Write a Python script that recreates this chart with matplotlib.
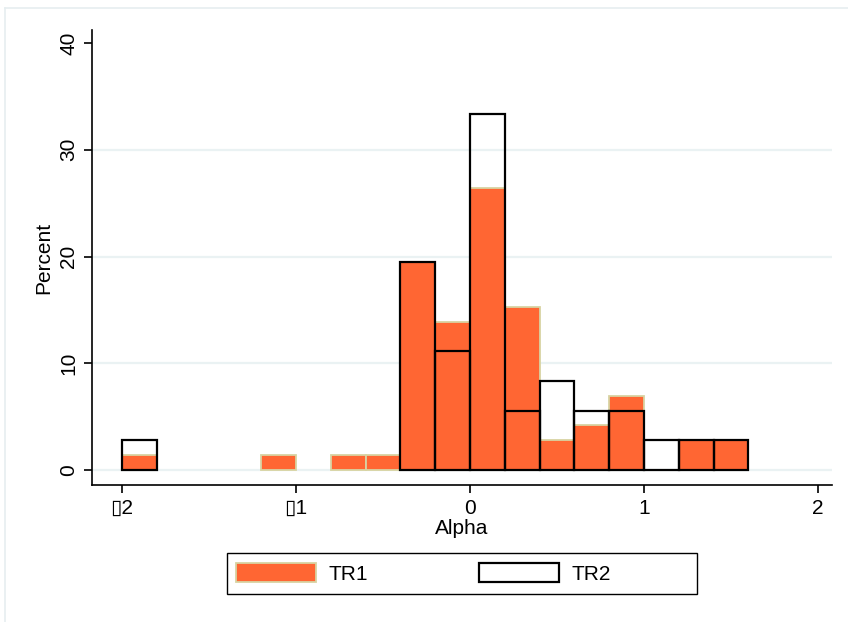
import matplotlib
matplotlib.use("Agg")
import matplotlib.pyplot as plt
from matplotlib.lines import Line2D
import matplotlib.patches as patches

plt.rcParams['font.family'] = ['Liberation Sans', 'DejaVu Sans']

# Bin left edges (width 0.2) and percentages
bin_width = 0.2
tr1_edges = [-2.0, -1.2, -0.8, -0.6, -0.4, -0.2, 0.0, 0.2, 0.4, 0.6, 0.8, 1.2, 1.4]
tr1_pct = [1.39, 1.39, 1.39, 1.39, 19.44, 13.89, 26.39, 15.28, 2.78, 4.17, 6.94, 2.78, 2.78]

tr2_edges = [-2.0, -0.4, -0.2, 0.0, 0.2, 0.4, 0.6, 0.8, 1.0, 1.2, 1.4]
tr2_pct = [2.78, 19.44, 11.11, 33.33, 5.56, 8.33, 5.56, 5.56, 2.78, 2.78, 2.78]

x_ticks = [-2, -1, 0, 1, 2]
x_ticklabels = ["\u25af2", "\u25af1", "0", "1", "2"]
y_ticks = [0, 10, 20, 30, 40]

W, H = 848, 622
fs = 15
fig = plt.figure(figsize=(W / 100, H / 100), dpi=100)
ax = fig.add_axes([92 / W, 1 - 485 / H, (832 - 92) / W, (485 - 30) / H])

# quadrillage léger
for y in y_ticks[:-1]:
    ax.axhline(y, color='#eaf2f3', lw=1.6, zorder=0)

orange = '#ff6633'
tan = '#d8d3a2'
ax.bar(tr1_edges, tr1_pct, width=bin_width, align='edge', facecolor=orange,
       edgecolor=tan, linewidth=1.3, zorder=2, label='TR1')
ax.bar(tr2_edges, tr2_pct, width=bin_width, align='edge', facecolor='none',
       edgecolor='black', linewidth=1.6, zorder=3, label='TR2')

ax.set_xlim(-2.172, 2.080)
ax.set_ylim(-1.405, 41.22)
for s in ['top', 'right']:
    ax.spines[s].set_visible(False)
for s in ['left', 'bottom']:
    ax.spines[s].set_linewidth(1.2)

ax.set_xticks(x_ticks)
ax.set_xticklabels(x_ticklabels, fontsize=fs)
ax.set_yticks(y_ticks)
ax.set_yticklabels([str(v) for v in y_ticks], fontsize=fs, rotation=90, va='center')
ax.tick_params(axis='both', direction='out', length=6, width=1.2, pad=4)

ax.set_xlabel("Alpha", fontsize=fs, labelpad=1)
ax.set_ylabel("Percent", fontsize=fs, labelpad=4)

# légende : cadre dessiné à part (colonnes de largeur égale comme dans Stata)
handles, labels = ax.get_legend_handles_labels()
leg = fig.legend(handles, labels, loc='center left', ncol=2,
                 bbox_to_anchor=(236 / W, 1 - 573.5 / H), fontsize=fs,
                 handlelength=3.85, handleheight=1.0, handletextpad=0.6,
                 columnspacing=5.3, frameon=False,
                 borderpad=0, borderaxespad=0)
fig.add_artist(patches.Rectangle((227 / W, 1 - 594 / H), (697 - 227) / W, 41 / H,
                                 transform=fig.transFigure, facecolor='white',
                                 edgecolor='black', linewidth=1.0, zorder=0))

# bordure de la zone graphique
fig.add_artist(Line2D([5 / W, 1], [1 - 8 / H, 1 - 8 / H], transform=fig.transFigure,
                      color='#e6eef0', lw=1.2))
fig.add_artist(Line2D([5 / W, 5 / W], [0, 1 - 8 / H], transform=fig.transFigure,
                      color='#e6eef0', lw=1.2))

fig.savefig("out.png", dpi=100)
